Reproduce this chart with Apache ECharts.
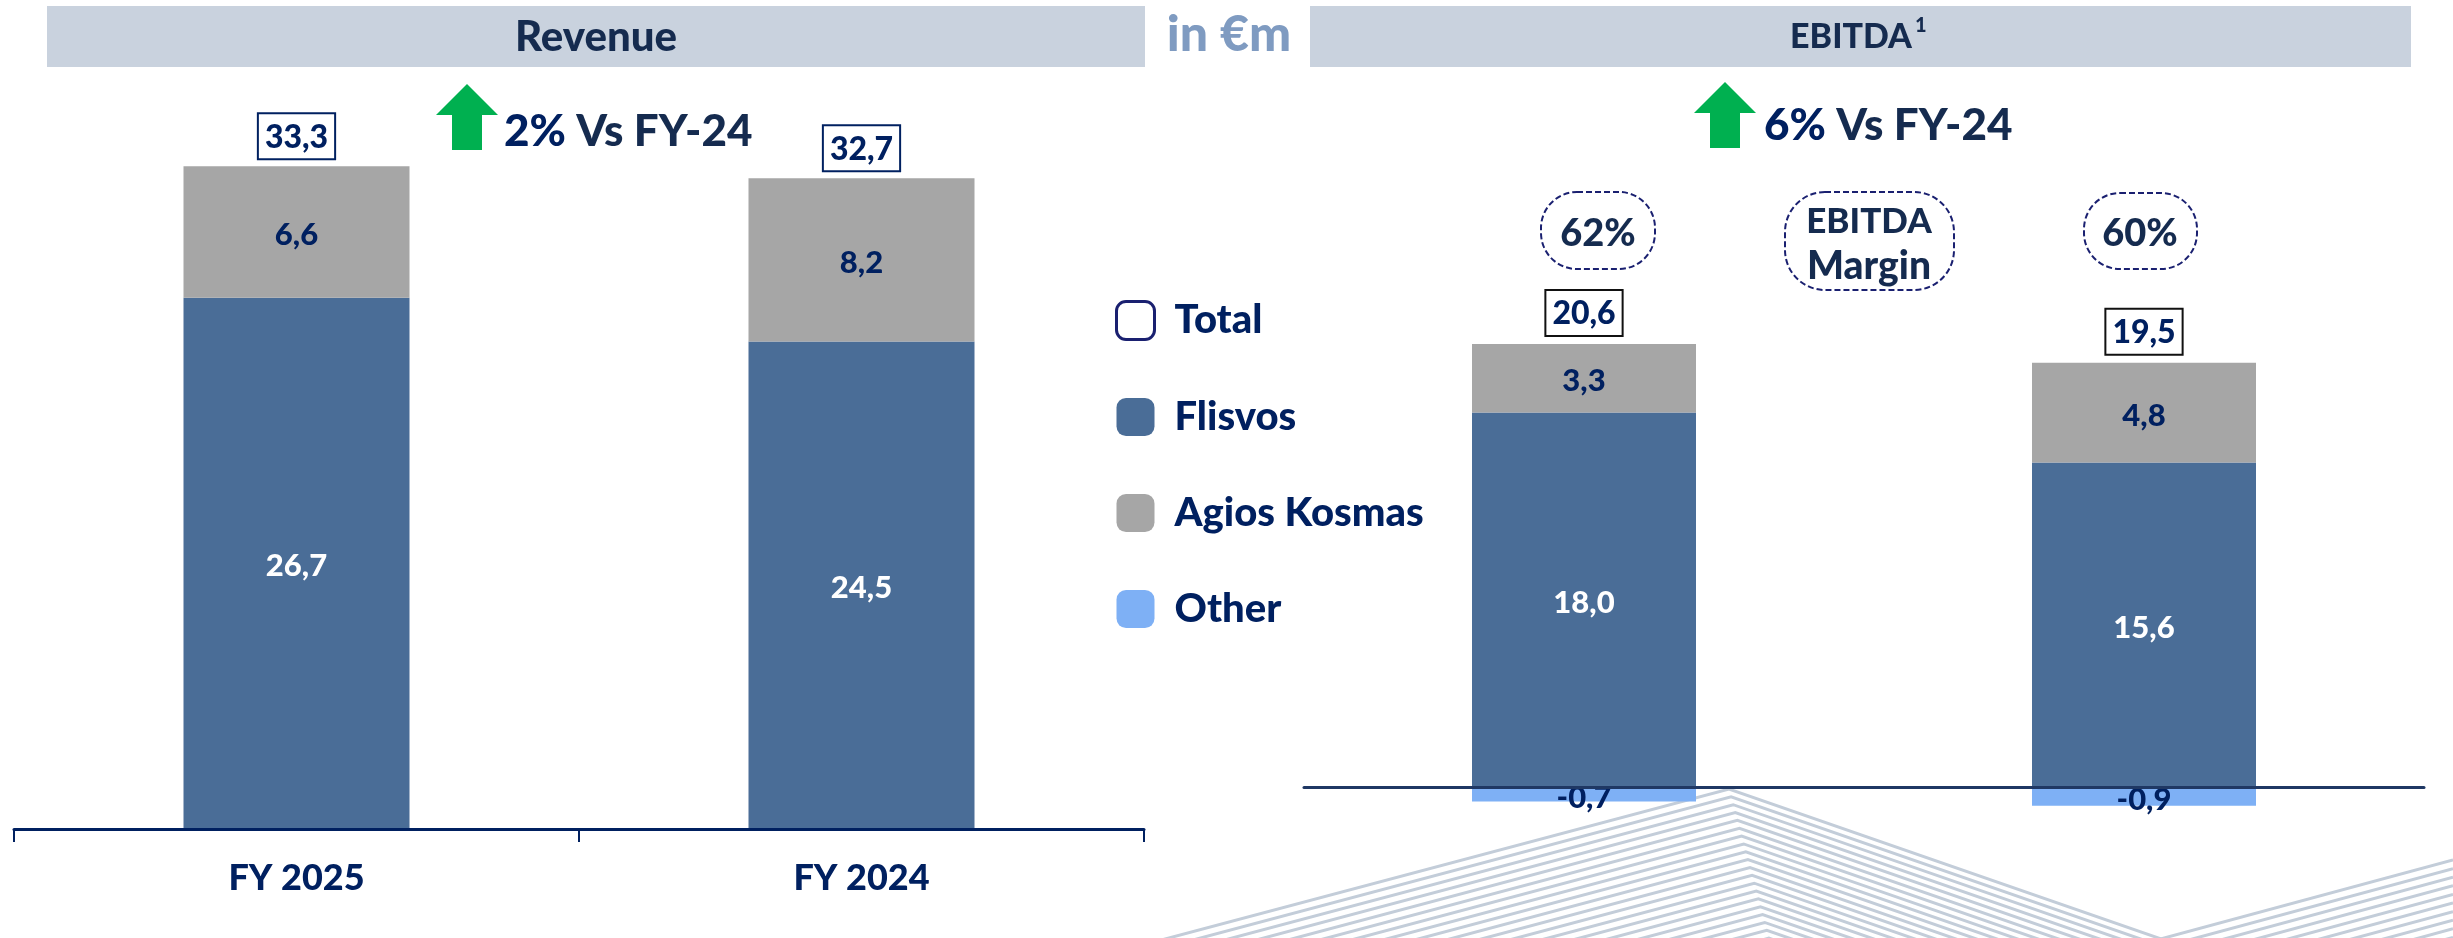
<!DOCTYPE html>
<html>

<head>
    <meta charset="utf-8">
    <title>Revenue and EBITDA</title>
    <script src="https://cdn.jsdelivr.net/npm/echarts@6/dist/echarts.min.js"></script>
    <style>
        html, body { margin: 0; padding: 0; background: #fff; }
        #main { width: 2453px; height: 938px; }
    </style>
</head>

<body>
    <div id="main"></div>
    <script>
        var categories = ['FY 2025', 'FY 2024'];

        var revenueFlisvos = [26.7, 24.5];
        var revenueAgios = [6.6, 8.2];
        var revenueTotal = [33.3, 32.7];

        var ebitdaFlisvos = [18.0, 15.6];
        var ebitdaAgios = [3.3, 4.8];
        var ebitdaOther = [-0.7, -0.9];
        var ebitdaTotal = [20.6, 19.5];

        var legendNames = ['Total', 'Flisvos', 'Agios Kosmas', 'Other'];

        var FONT = 'Lato';
        var WEIGHT = 900;
        var NAVY = '#002060';
        var DARK = '#152b4f';
        var FLISVOS = '#4a6d97';
        var AGIOS = '#a6a6a6';
        var OTHER = '#7eb0f5';
        var GREEN = '#00b050';
        var HEADER = '#c9d2de';
        var STRIPE = '#c3cdd9';
        var EBITDA_PX = 20.8; // px per €m on the right plot

        function comma(v) {
            return v.toFixed(1).replace('.', ',');
        }

        function barSeries(name, data, color, labelColor, axis, labelOffset) {
            return {
                name: name,
                type: 'bar',
                stack: 'a' + axis,
                xAxisIndex: axis,
                yAxisIndex: axis,
                data: data,
                barWidth: '40%',
                itemStyle: { color: color },
                label: {
                    show: true,
                    position: 'inside',
                    offset: [0, labelOffset],
                    color: labelColor,
                    fontFamily: FONT,
                    fontWeight: WEIGHT,
                    fontSize: 31,
                    formatter: function (p) { return comma(p.value); }
                }
            };
        }

        // invisible marks that only carry the boxed total above each bar
        function totalSeries(data, axis, border) {
            return {
                name: 'Total',
                type: 'scatter',
                xAxisIndex: axis,
                yAxisIndex: axis,
                symbolSize: 0,
                itemStyle: { color: 'transparent', opacity: 1 },
                data: data,
                z: 5,
                label: {
                    show: true,
                    position: 'top',
                    distance: 8,
                    color: NAVY,
                    fontFamily: FONT,
                    fontWeight: WEIGHT,
                    fontSize: 32,
                    backgroundColor: '#fff',
                    borderColor: border,
                    borderWidth: 2,
                    padding: [7, 6, 5, 6],
                    formatter: function (p) { return comma(p.value); }
                }
            };
        }

        // the right stack tops out above the net total, so lift the box by the gap
        var ebitdaTotalData = ebitdaTotal.map(function (v, i) {
            var top = ebitdaFlisvos[i] + ebitdaAgios[i];
            return { value: v, label: { distance: 9 + (top - v) * EBITDA_PX } };
        });

        function arrow(x, y) {
            return {
                type: 'polygon',
                z: 3,
                shape: {
                    points: [[x, y], [x + 31, y + 31], [x + 15, y + 31], [x + 15, y + 66],
                        [x - 15, y + 66], [x - 15, y + 31], [x - 31, y + 31]]
                },
                style: { fill: GREEN }
            };
        }

        function text(x, y, str, size, color, align) {
            return {
                type: 'text',
                z: 6,
                x: x,
                y: y,
                style: {
                    text: str,
                    fill: color,
                    font: WEIGHT + ' ' + size + 'px ' + FONT,
                    align: align || 'center',
                    verticalAlign: 'middle'
                }
            };
        }

        function growth(x, y, pct) {
            var t = text(x, y, '{a|' + pct + '} {b|Vs FY-24}', 44, DARK, 'left');
            t.style.rich = {
                a: { fill: NAVY, font: WEIGHT + ' 44px ' + FONT },
                b: { fill: DARK, font: WEIGHT + ' 44px ' + FONT }
            };
            return t;
        }

        function dashedBox(x, y, w, h, r) {
            return {
                type: 'rect',
                z: 6,
                shape: { x: x, y: y, width: w, height: h, r: r },
                style: { fill: '#fff', stroke: '#1a2070', lineWidth: 2, lineDash: [6, 3] }
            };
        }

        // chevron stripes behind the right plot
        var graphics = [];
        for (var k = 0; k < 22; k++) {
            var ax = 1729 + k * 2.1;
            var ay = 789 + k * 7.85;
            graphics.push({
                type: 'polyline',
                z: -1,
                shape: { points: [[ax - 800, ay + 800 * 0.266], [ax, ay], [ax + 800, ay + 800 * 0.347]] },
                style: { fill: null, stroke: STRIPE, lineWidth: 3 }
            });
        }
        for (var j = 0; j < 10; j++) {
            graphics.push({
                type: 'polyline',
                z: -1,
                shape: { points: [[2453, 860 + j * 8.6], [2053, 860 + j * 8.6 + 400 * 0.27]] },
                style: { fill: null, stroke: STRIPE, lineWidth: 3 }
            });
        }

        graphics.push(
            { type: 'rect', z: 1, shape: { x: 47, y: 6, width: 1098, height: 61 }, style: { fill: HEADER } },
            { type: 'rect', z: 1, shape: { x: 1310, y: 6, width: 1101, height: 61 }, style: { fill: HEADER } },
            text(596, 37, 'Revenue', 42, DARK),
            text(1851, 37, 'EBITDA', 34, DARK),
            text(1915, 26, '1', 20, DARK, 'left'),
            text(1229, 35, 'in €m', 50, '#7f9bc1'),
            arrow(467, 84),
            arrow(1725, 82),
            growth(504, 132, '2%'),
            growth(1764, 126, '6%'),
            dashedBox(1541, 192, 114, 77, 36),
            dashedBox(2084, 193, 113, 76, 36),
            dashedBox(1785, 192, 169, 98, 40),
            text(1598, 234, '62%', 38, DARK),
            text(2140, 234, '60%', 38, DARK),
            text(1869, 222, 'EBITDA', 35, DARK),
            text(1869, 266, 'Margin', 39, DARK)
        );

        var myChart = echarts.init(document.getElementById('main'), null, { renderer: 'canvas' });

        var option = {
            animation: false,
            backgroundColor: '#fff',
            graphic: graphics,
            grid: [
                { left: 14, width: 1130, top: 33, height: 796, outerBoundsMode: 'none' },
                { left: 1304, width: 1120, top: 163, height: 728, outerBoundsMode: 'none' }
            ],
            legend: {
                orient: 'vertical',
                left: 1110,
                top: 295,
                itemWidth: 38,
                itemHeight: 38,
                itemGap: 56,
                selectedMode: false,
                textStyle: {
                    color: NAVY,
                    fontFamily: FONT,
                    fontWeight: WEIGHT,
                    fontSize: 40,
                    padding: [0, 0, 0, 15]
                },
                data: [
                    { name: legendNames[0], icon: 'roundRect', itemStyle: { color: '#fff', borderColor: '#1a2070', borderWidth: 3 } },
                    { name: legendNames[1], icon: 'roundRect' },
                    { name: legendNames[2], icon: 'roundRect' },
                    { name: legendNames[3], icon: 'roundRect' }
                ]
            },
            xAxis: [
                {
                    type: 'category',
                    gridIndex: 0,
                    data: categories,
                    z: 3,
                    axisLine: { lineStyle: { color: NAVY, width: 3 } },
                    axisTick: { show: true, length: 13, lineStyle: { color: NAVY, width: 2 } },
                    axisLabel: { color: NAVY, fontFamily: FONT, fontWeight: WEIGHT, fontSize: 36, margin: 31 }
                },
                {
                    type: 'category',
                    gridIndex: 1,
                    data: categories,
                    z: 3,
                    axisLine: { lineStyle: { color: '#1f3864', width: 3 } },
                    axisTick: { show: false },
                    axisLabel: { color: NAVY, fontFamily: FONT, fontWeight: WEIGHT, fontSize: 36, margin: 115 }
                }
            ],
            yAxis: [
                { type: 'value', gridIndex: 0, min: 0, max: 40, show: false },
                { type: 'value', gridIndex: 1, min: -5, max: 30, show: false }
            ],
            series: [
                barSeries('Flisvos', revenueFlisvos, FLISVOS, '#fff', 0, 3),
                barSeries('Agios Kosmas', revenueAgios, AGIOS, NAVY, 0, 3),
                totalSeries(revenueTotal, 0, NAVY),
                barSeries('Flisvos', ebitdaFlisvos, FLISVOS, '#fff', 1, 3),
                barSeries('Agios Kosmas', ebitdaAgios, AGIOS, NAVY, 1, 3),
                barSeries('Other', ebitdaOther, OTHER, NAVY, 1, 4),
                totalSeries(ebitdaTotalData, 1, '#111')
            ]
        };
        myChart.setOption(option);
    </script>

</body>

</html>
